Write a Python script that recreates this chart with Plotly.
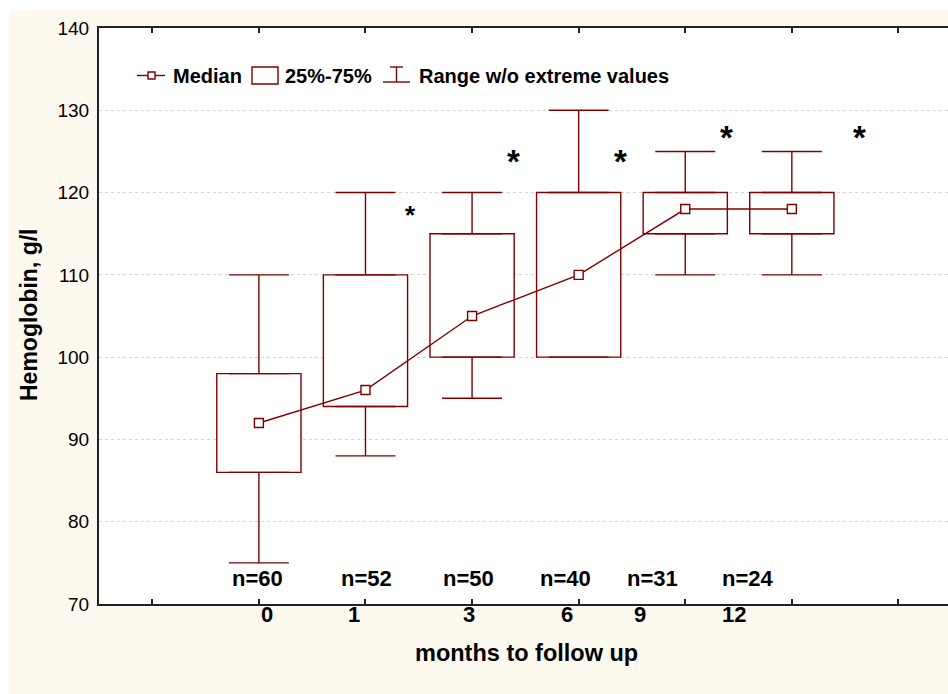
import plotly.graph_objects as go

# ---------------- data ----------------
positions = [1, 2, 3, 4, 5, 6]
months = ["0", "1", "3", "6", "9", "12"]
n_labels = ["n=60", "n=52", "n=50", "n=40", "n=31", "n=24"]
median = [92, 96, 105, 110, 118, 118]
q1 = [86, 94, 100, 100, 115, 115]
q3 = [98, 110, 115, 120, 120, 120]
lo = [75, 88, 95, 100, 110, 110]
hi = [110, 120, 120, 130, 125, 125]

# label placement (data x units) as in the original figure
month_label_x = [1.08, 1.89, 2.97, 3.89, 4.58, 5.46]
n_label_x = [0.99, 2.01, 2.97, 3.88, 4.69, 5.59]
star_x = [2.42, 3.39, 4.39, 5.39, 6.63]
star_y = [117.9, 124.6, 124.6, 127.6, 127.6]
star_size = [26, 33, 33, 33, 33]

MAROON = "#800000"
CREAM = "#fdf9ef"
FONT = "Liberation Sans, Arial, sans-serif"

# plot-area geometry in pixels (for paper conversions of decorations)
W, H = 948, 694
L, R, T, B = 99, 0, 28, 90
PW, PH = W - L - R, H - T - B


def px(x):
    return (x - L) / PW


def py(y):
    return (H - B - y) / PH


fig = go.Figure()

# boxes (25%-75%)
fig.add_trace(go.Bar(
    x=positions, y=[b - a for a, b in zip(q1, q3)], base=q1, width=0.79,
    marker=dict(color="white", line=dict(color=MAROON, width=1.4)),
    showlegend=False, hoverinfo="skip",
))
# upper whiskers
fig.add_trace(go.Scatter(
    x=positions, y=q3, mode="markers", marker=dict(size=1, opacity=0),
    error_y=dict(type="data", symmetric=False,
                 array=[h - b for h, b in zip(hi, q3)], arrayminus=[0] * 6,
                 color=MAROON, thickness=1.4, width=30),
    showlegend=False, hoverinfo="skip",
))
# lower whiskers
fig.add_trace(go.Scatter(
    x=positions, y=q1, mode="markers", marker=dict(size=1, opacity=0),
    error_y=dict(type="data", symmetric=False,
                 array=[0] * 6, arrayminus=[a - l for a, l in zip(q1, lo)],
                 color=MAROON, thickness=1.4, width=30),
    showlegend=False, hoverinfo="skip",
))
# median line
fig.add_trace(go.Scatter(
    x=positions, y=median, mode="lines+markers",
    line=dict(color=MAROON, width=1.4),
    marker=dict(symbol="square", size=9, color="white",
                line=dict(color=MAROON, width=1.4)),
    showlegend=False,
))

annotations = []
bold = dict(family=FONT, size=22, color="black", weight="bold")
for xv, t in zip(n_label_x, n_labels):
    annotations.append(dict(x=xv, y=py(578), xref="x", yref="paper", text=t,
                            showarrow=False, font=bold, xanchor="center", yanchor="middle"))
for xv, t in zip(month_label_x, months):
    annotations.append(dict(x=xv, y=py(614.5), xref="x", yref="paper", text=t,
                            showarrow=False, font=bold, xanchor="center", yanchor="middle"))
for xv, yv, s in zip(star_x, star_y, star_size):
    annotations.append(dict(x=xv, y=yv, xref="x", yref="y", text="*", showarrow=False,
                            font=dict(family=FONT, size=s, color="black", weight="bold"),
                            xanchor="center", yanchor="middle", yshift=-int(s * 0.22)))

# axis titles
annotations.append(dict(x=px(526), y=py(653), xref="paper", yref="paper",
                        text="months to follow up", showarrow=False,
                        font=dict(family=FONT, size=23.5, color="black", weight="bold"),
                        xanchor="center", yanchor="middle"))
annotations.append(dict(x=px(29), y=py(315), xref="paper", yref="paper",
                        text="Hemoglobin, g/l", showarrow=False, textangle=-90,
                        font=dict(family=FONT, size=23, color="black", weight="bold"),
                        xanchor="center", yanchor="middle"))

# legend texts
leg_font = dict(family=FONT, size=20, color="black", weight="bold")
for xl, t in [(171, "Median"), (283, "25%-75%"), (417, "Range w/o extreme values")]:
    annotations.append(dict(x=px(xl), y=py(76), xref="paper", yref="paper", text=t,
                            showarrow=False, font=leg_font, xanchor="left", yanchor="middle"))

shapes = []
# white page margins around the cream panel
shapes.append(dict(type="rect", xref="paper", yref="paper", x0=px(-5), x1=px(9),
                   y0=py(H + 5), y1=py(-5), fillcolor="white", line=dict(width=0), layer="below"))
shapes.append(dict(type="rect", xref="paper", yref="paper", x0=px(-5), x1=px(W + 5),
                   y0=py(10), y1=py(-5), fillcolor="white", line=dict(width=0), layer="below"))
# legend glyphs
ll = dict(color=MAROON, width=1.4)
shapes.append(dict(type="line", xref="paper", yref="paper", x0=px(137), x1=px(165),
                   y0=py(75.5), y1=py(75.5), line=ll))
shapes.append(dict(type="rect", xref="paper", yref="paper", x0=px(148), x1=px(155),
                   y0=py(72), y1=py(79), line=ll, fillcolor="white"))
shapes.append(dict(type="rect", xref="paper", yref="paper", x0=px(252), x1=px(278),
                   y0=py(67), y1=py(84), line=ll, fillcolor="white"))
shapes.append(dict(type="line", xref="paper", yref="paper", x0=px(390), x1=px(403),
                   y0=py(67), y1=py(67), line=ll))
shapes.append(dict(type="line", xref="paper", yref="paper", x0=px(396.5), x1=px(396.5),
                   y0=py(67), y1=py(82), line=ll))
shapes.append(dict(type="line", xref="paper", yref="paper", x0=px(383), x1=px(410),
                   y0=py(82), y1=py(82), line=ll))

fig.update_layout(
    width=W, height=H,
    margin=dict(l=L, r=R, t=T, b=B, pad=0),
    paper_bgcolor=CREAM, plot_bgcolor="white",
    font=dict(family=FONT, color="black"),
    showlegend=False,
    annotations=annotations,
    shapes=shapes,
    xaxis=dict(range=[-0.5, 7.465], tickmode="array", tickvals=list(range(0, 8)),
               ticks="inside", ticklen=5, tickwidth=1.5, tickcolor="#222",
               showticklabels=False, showgrid=False, zeroline=False,
               showline=True, linecolor="#222", linewidth=2, mirror="ticks"),
    yaxis=dict(range=[70, 140], tick0=70, dtick=10, ticks="", showline=True,
               linecolor="#222", linewidth=2, mirror=False, zeroline=False,
               showgrid=True, gridcolor="#d2d2d2", griddash="dot", gridwidth=1,
               tickfont=dict(family=FONT, size=19, color="black"),
               ticklabelstandoff=4),
)

fig.write_html("out.html")
